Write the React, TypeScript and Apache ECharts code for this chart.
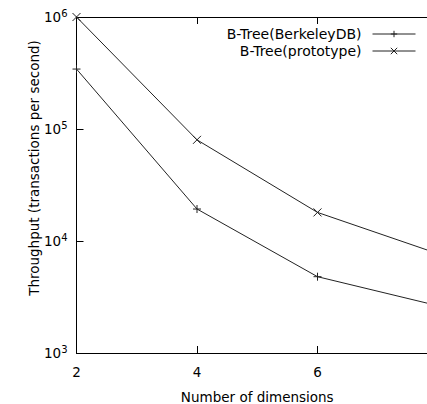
import React, { useEffect, useRef } from "react";
import * as echarts from "echarts";

const dims = [2, 4, 6, 8];
const berkeleyDB = [343000, 19300, 4800, 2640];
const prototype = [1000000, 80000, 18000, 7700];
const seriesNames = ["B-Tree(BerkeleyDB)", "B-Tree(prototype)"];

const PLUS = "path://M5,0L5,10M0,5L10,5";
const CROSS = "path://M0,0L10,10M10,0L0,10";

export default function App() {
  const ref = useRef<HTMLDivElement>(null);
  useEffect(() => {
    if (!ref.current) return;
    const chart = echarts.init(ref.current, null, { renderer: "svg" });
    const font = "DejaVu Sans";
    const fs = 13.5;
    const mk = (arr: number[]) => dims.map((d, i) => [d, arr[i]]);
    const lineStyle = { color: "#222", width: 1 };
    const legendBase = {
      right: 460 - 421,
      itemWidth: 43,
      itemHeight: 8,
      align: "right",
      lineStyle: { width: 1, color: "#222" },
      itemStyle: { borderWidth: 1, borderColor: "#222", color: "transparent" },
      textStyle: { fontFamily: font, fontSize: 14, color: "#000", padding: [0, 6, 0, 0] },
    };
    chart.setOption({
      animation: false,
      textStyle: { fontFamily: font, color: "#000" },
      grid: {
        left: 76.5,
        right: 460 - 438,
        top: 17,
        bottom: 404 - 353,
        containLabel: false,
        outerBoundsMode: "none",
      },
      legend: [
        { ...legendBase, data: [seriesNames[0]], top: 22 },
        { ...legendBase, data: [seriesNames[1]], top: 39 },
      ],
      xAxis: [
        {
          type: "value",
          min: 2,
          max: 8,
          interval: 2,
          name: "Number of dimensions",
          nameLocation: "middle",
          nameGap: 37,
          nameMoveOverlap: false,
          nameTextStyle: { fontFamily: font, fontSize: fs, color: "#000", lineHeight: 14 },
          axisLine: { lineStyle: { color: "#000", width: 1 } },
          axisTick: { inside: true, length: 7, lineStyle: { color: "#000" } },
          axisLabel: { margin: 12, fontSize: fs, color: "#000", fontFamily: font, showMaxLabel: false },
          splitLine: { show: false },
        },
        {
          type: "value",
          position: "top",
          min: 2,
          max: 8,
          interval: 2,
          axisLine: { lineStyle: { color: "#000", width: 1 } },
          axisTick: { inside: true, length: 7, lineStyle: { color: "#000" } },
          axisLabel: { show: false },
          splitLine: { show: false },
        },
      ],
      yAxis: [
        {
          type: "log",
          logBase: 10,
          min: 1000,
          max: 1000000,
          name: "Throughput (transactions per second)",
          nameLocation: "middle",
          nameGap: 36,
          nameMoveOverlap: false,
          nameTextStyle: { fontFamily: font, fontSize: fs, color: "#000", padding: [0, 0, 0, 34] },
          axisLine: { lineStyle: { color: "#000", width: 1 } },
          axisTick: { inside: true, length: 7, lineStyle: { color: "#000" } },
          minorTick: { show: false },
          splitLine: { show: false },
          axisLabel: {
            margin: 9,
            formatter: (v: number) => `{b|10}{s|${Math.round(Math.log10(v))}}`,
            rich: {
              b: { fontSize: fs, fontFamily: font, color: "#000" },
              s: { fontSize: 10, fontFamily: font, color: "#000", padding: [0, 0, 8, 0] },
            },
          },
        },
      ],
      series: [
        {
          name: seriesNames[0],
          type: "line",
          data: mk(berkeleyDB),
          symbol: PLUS,
          symbolSize: 8,
          lineStyle,
          itemStyle: { color: "transparent", borderColor: "#222", borderWidth: 1 },
        },
        {
          name: seriesNames[1],
          type: "line",
          data: mk(prototype),
          symbol: CROSS,
          symbolSize: 8,
          lineStyle,
          itemStyle: { color: "transparent", borderColor: "#222", borderWidth: 1 },
        },
      ],
    });
    return () => chart.dispose();
  }, []);
  return (
    <div style={{ position: "fixed", left: 0, top: 0, width: 427, height: 404, overflow: "hidden", background: "#fff" }}>
      <div ref={ref} style={{ width: 460, height: 404 }} />
    </div>
  );
}
